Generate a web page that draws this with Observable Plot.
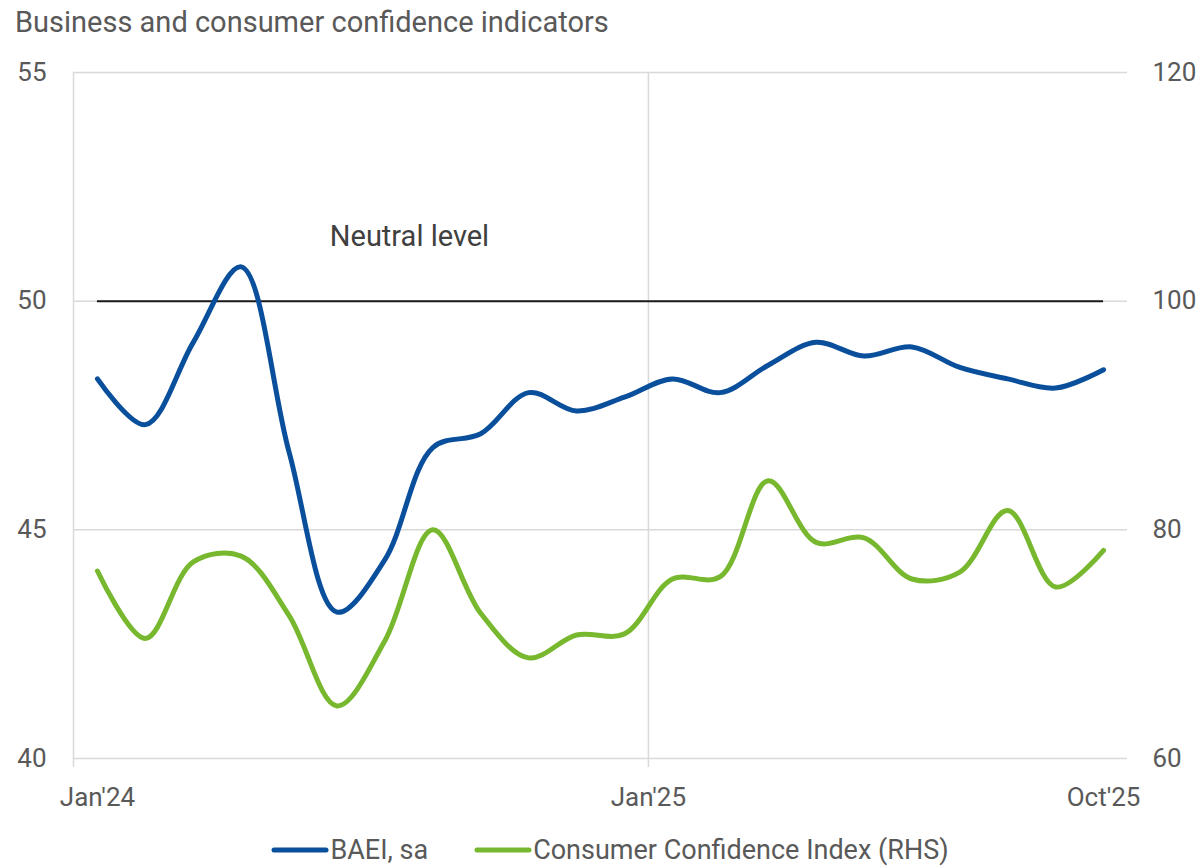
<!DOCTYPE html>
<html><head><meta charset="utf-8">
<script src="https://cdn.jsdelivr.net/npm/d3@7"></script>
<script src="https://cdn.jsdelivr.net/npm/@observablehq/plot@0.6"></script>
<style>
html,body{margin:0;padding:0;background:#fff}
body{width:1204px;height:868px;overflow:hidden;font-family:Roboto,sans-serif;color:#595959}
#title{font-size:29px;line-height:32px;padding-top:6px;margin-left:15px;height:32px;white-space:nowrap}
#chart svg{display:block}
#legend{display:flex;justify-content:center;align-items:center;margin-top:17px;padding-left:16px;font-size:27px;line-height:30px;white-space:nowrap}
.item{display:flex;align-items:center}
.item svg{display:block;margin-right:1px}
</style></head><body>
<div id="title">Business and consumer confidence indicators</div>
<div id="chart"></div>
<div id="legend"></div>
<script>
const months = ["Jan'24","Feb'24","Mar'24","Apr'24","May'24","Jun'24","Jul'24","Aug'24","Sep'24","Oct'24","Nov'24","Dec'24",
                "Jan'25","Feb'25","Mar'25","Apr'25","May'25","Jun'25","Jul'25","Aug'25","Sep'25","Oct'25"];
const baei = [48.3,47.3,49.1,50.75,46.7,43.2,44.35,46.8,47.1,48.0,47.6,47.9,48.3,48.0,48.6,49.1,48.8,49.0,48.55,48.3,48.1,48.5];
const cci  = [76.4,70.5,77.2,77.7,72.5,64.6,70.3,80.0,72.7,68.8,70.8,70.9,75.7,75.9,84.3,78.9,79.3,75.7,76.3,81.7,75.0,78.2];
const leftTicks = [40,45,50,55];
const rightTicks = [60,80,100,120];
const xTickPos = [0,11.5,21];
const xTickLabels = ["Jan'24","Jan'25","Oct'25"];
const neutralLevel = [50];
const annotations = [{label:"Neutral level", x:4.85, y:51.4}];
const seriesNames = ["BAEI, sa","Consumer Confidence Index (RHS)"];
const seriesColors = ["#0a4f9b","#77b82f"];

// secondary axis mapping (RHS -> LHS scale)
const l0 = leftTicks[0], l1 = leftTicks[leftTicks.length-1];
const r0 = rightTicks[0], r1 = rightTicks[rightTicks.length-1];
const toLeft = v => l0 + (v - r0) * (l1 - l0) / (r1 - r0);

const baeiData = baei.map((v,i)=>({i, v, m: months[i]}));
const cciData = cci.map((v,i)=>({i, v: toLeft(v), m: months[i]}));

const chart = Plot.plot({
  width: 1204, height: 780,
  marginTop: 34, marginBottom: 60, marginLeft: 73, marginRight: 77,
  style: {fontFamily: "Roboto, sans-serif", fontSize: "26px", color: "#595959", background: "#fff", overflow: "visible"},
  x: {type: "linear", domain: [-0.5, months.length - 0.5]},
  y: {domain: [l0, l1]},
  marks: [
    Plot.ruleY(leftTicks, {stroke: "#d9d9d9", strokeWidth: 1.5}),
    Plot.ruleX([-0.5, 11.5], {y1: l1, y2: l0, insetBottom: -9, stroke: "#d9d9d9", strokeWidth: 1.5}),
    Plot.ruleY(neutralLevel, {x1: 0, x2: months.length - 1, stroke: "#1a1a1a", strokeWidth: 2}),
    Plot.line(cciData, {x: "i", y: "v", stroke: seriesColors[1], strokeWidth: 5, curve: "catmull-rom", strokeLinecap: "round", strokeLinejoin: "round"}),
    Plot.line(baeiData, {x: "i", y: "v", stroke: seriesColors[0], strokeWidth: 5, curve: "catmull-rom", strokeLinecap: "round", strokeLinejoin: "round"}),
    Plot.text(annotations, {x: "x", y: "y", text: "label", textAnchor: "start", fill: "#404040", fontSize: 29}),
    Plot.axisY(leftTicks, {anchor: "left", tickSize: 0, tickPadding: 27, label: null}),
    Plot.axisY(leftTicks, {anchor: "right", tickSize: 0, tickPadding: 25, textAnchor: "start", label: null,
      tickFormat: d => String(rightTicks[leftTicks.indexOf(d)])}),
    Plot.axisX(xTickPos, {anchor: "bottom", tickSize: 0, tickPadding: 29, label: null,
      tickFormat: d => xTickLabels[xTickPos.indexOf(d)]})
  ]
});
document.getElementById("chart").appendChild(chart);

const legend = document.getElementById("legend");
seriesNames.forEach((name, k) => {
  const item = document.createElement("div");
  item.className = "item";
  if (k > 0) item.style.marginLeft = "46px";
  item.innerHTML = `<svg width="58" height="10"><line x1="3" y1="5" x2="55" y2="5" stroke="${seriesColors[k]}" stroke-width="5" stroke-linecap="round"/></svg><span>${name}</span>`;
  legend.appendChild(item);
});
</script>
</body></html>
